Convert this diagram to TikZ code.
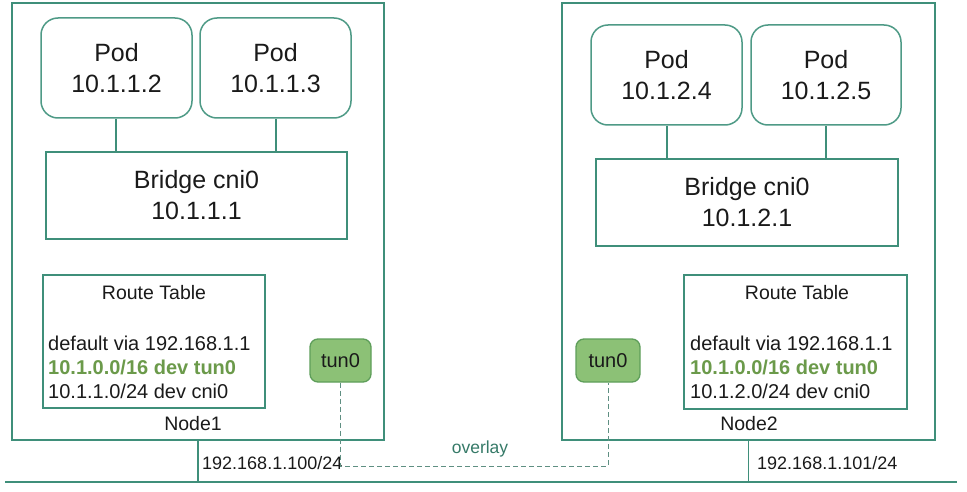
\documentclass[tikz,border=0pt]{standalone}
\usepackage{fontspec}
\setmainfont{Liberation Sans}
\definecolor{teal1}{HTML}{3F8F7A}
\definecolor{teal2}{HTML}{4E9A86}
\definecolor{tunfill}{HTML}{8CC176}
\definecolor{tunline}{HTML}{5E9E5A}
\definecolor{rtgreen}{HTML}{6B9A4A}
\definecolor{txt}{HTML}{1A1A1A}
\definecolor{dash}{HTML}{5F8F82}
\begin{document}
\begin{tikzpicture}[x=1pt,y=-1pt,
  hostbox/.style={draw=teal1,line width=2pt,inner sep=0pt},
  podbox/.style={draw=teal2,line width=1.5pt,rounded corners=17pt,inner sep=0pt,align=center,text=txt,font=\fontsize{25}{31}\selectfont},
  brbox/.style={draw=teal1,line width=1.8pt,inner sep=0pt,align=center,text=txt,font=\fontsize{25}{31}\selectfont},
  rtbox/.style={draw=teal1,line width=1.8pt,inner sep=0pt},
  tunbox/.style={draw=tunline,fill=tunfill,line width=1.3pt,rounded corners=8pt,inner sep=0pt,text=txt,font=\fontsize{20}{22}\selectfont},
  link/.style={draw=teal1,line width=1.5pt},
  rttext/.style={anchor=base west,inner sep=0pt,text=txt,font=\fontsize{20}{22}\selectfont},
  lbl/.style={inner sep=0pt,text=txt,font=\fontsize{19.5}{22}\selectfont},
  iplbl/.style={anchor=base west,inner sep=0pt,text=txt,font=\fontsize{18}{20}\selectfont},
  overlaydash/.style={draw=dash,line width=0.9pt,dash pattern=on 5pt off 3pt}
]
\useasboundingbox (0,0) rectangle (967,492);

% Node1
\node[hostbox,minimum width=372pt,minimum height=437pt] (n1) at (198,221.5) {};
\node[podbox,minimum width=151pt,minimum height=100pt] (p1) at (116.5,68) {Pod\\10.1.1.2};
\node[podbox,minimum width=151pt,minimum height=100pt] (p2) at (275.5,68) {Pod\\10.1.1.3};
\node[brbox,minimum width=301pt,minimum height=87pt] (b1) at (196.5,195.5) {Bridge cni0\\10.1.1.1};
\node[rtbox,minimum width=222pt,minimum height=133pt] (rt1) at (154,341.5) {};
\node[lbl,anchor=base] (rt1t) at (154,299) {Route Table};
\node[rttext] (rt1a) at (48,350) {default via 192.168.1.1};
\node[rttext,text=rtgreen,font=\fontsize{20}{22}\selectfont\bfseries] (rt1b) at (48,374) {10.1.0.0/16 dev tun0};
\node[rttext] (rt1c) at (48,398) {10.1.1.0/24 dev cni0};
\node[tunbox,minimum width=61pt,minimum height=43pt] (t1) at (340.5,360.5) {tun0};
\node[lbl,anchor=base] (n1l) at (193,430) {Node1};
\draw[link] (p1.south -| 116,0) -- (b1.north -| 116,0);
\draw[link] (p2.south -| 276,0) -- (b1.north -| 276,0);

% Node2
\node[hostbox,minimum width=373pt,minimum height=437pt] (n2) at (748.5,221.5) {};
\node[podbox,minimum width=151pt,minimum height=100pt] (p3) at (666.5,75) {Pod\\10.1.2.4};
\node[podbox,minimum width=150pt,minimum height=100pt] (p4) at (826,75) {Pod\\10.1.2.5};
\node[brbox,minimum width=302pt,minimum height=87pt] (b2) at (747,202.5) {Bridge cni0\\10.1.2.1};
\node[rtbox,minimum width=223pt,minimum height=134pt] (rt2) at (795.5,342) {};
\node[lbl,anchor=base] (rt2t) at (797,299) {Route Table};
\node[rttext] (rt2a) at (690,350) {default via 192.168.1.1};
\node[rttext,text=rtgreen,font=\fontsize{20}{22}\selectfont\bfseries] (rt2b) at (690,374) {10.1.0.0/16 dev tun0};
\node[rttext] (rt2c) at (690,398) {10.1.2.0/24 dev cni0};
\node[tunbox,minimum width=64pt,minimum height=43pt] (t2) at (608,360.5) {tun0};
\node[lbl,anchor=base] (n2l) at (749,430) {Node2};
\draw[link] (p3.south -| 667,0) -- (b2.north -| 667,0);
\draw[link] (p4.south -| 826,0) -- (b2.north -| 826,0);

% network
\coordinate (gl) at (5,482);
\coordinate (gr) at (957,482);
\draw[link,line width=2pt] (gl) -- (gr);
\draw[link] (n1.south) -- (n1.south |- gl);
\draw[link] (n2.south) -- (n2.south |- gl);
\node[iplbl] (ip1) at (202,469) {192.168.1.100/24};
\node[iplbl] (ip2) at (757,469) {192.168.1.101/24};

% overlay
\coordinate (ov) at (340.5,466);
\draw[overlaydash] (t1.south) -- (t1.south |- ov) -| (t2.south);
\node[inner sep=0pt,anchor=base,text=teal1!85!black,font=\fontsize{17.5}{20}\selectfont] (ovl) at (480,453) {overlay};
\end{tikzpicture}
\end{document}
